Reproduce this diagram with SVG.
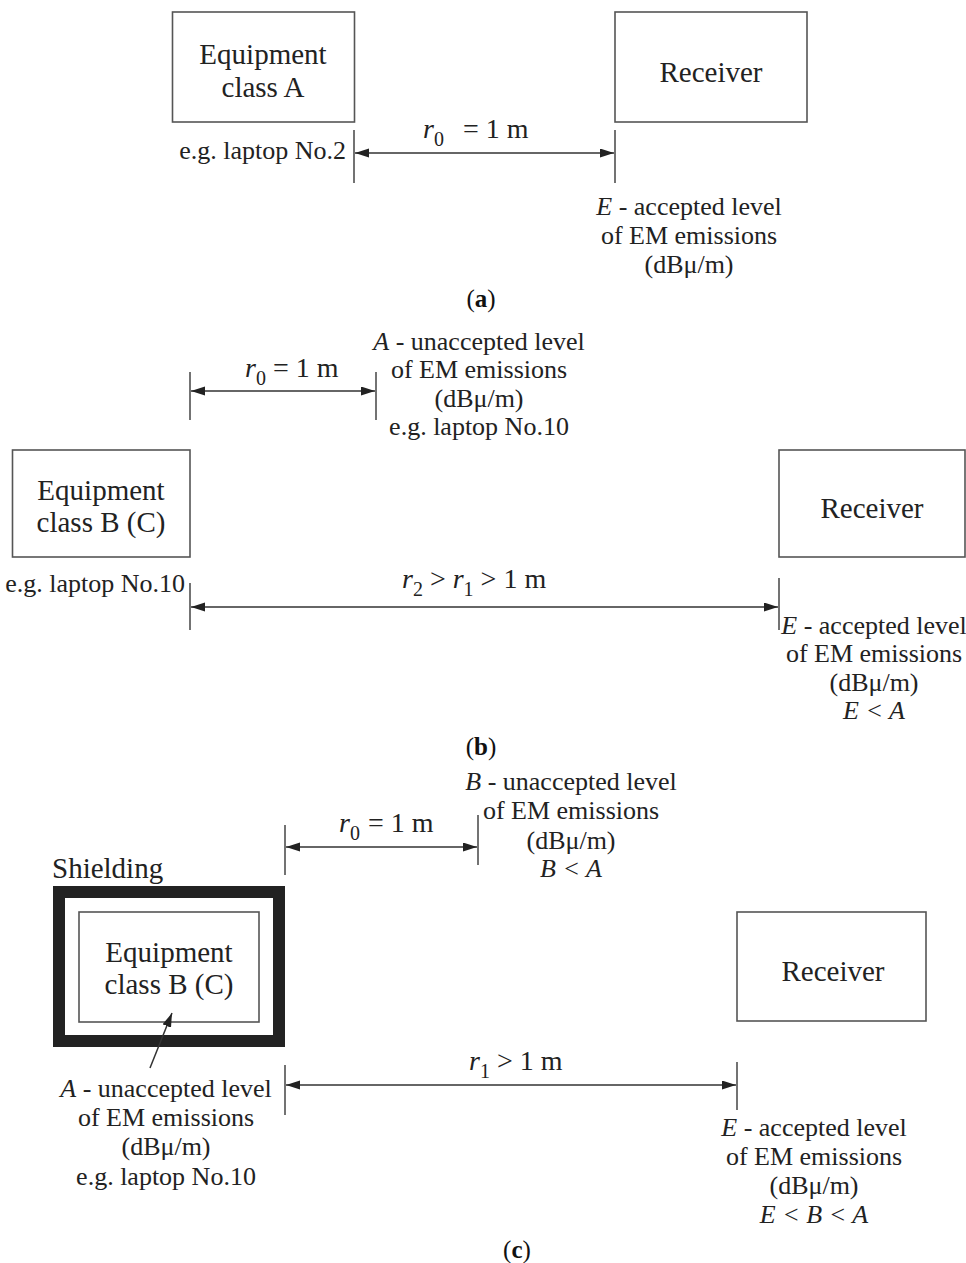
<svg xmlns="http://www.w3.org/2000/svg" width="966" height="1263" viewBox="0 0 966 1263">
<style>
.bg{fill:#fff}
.box{fill:none;stroke:#555;stroke-width:1.6}
.shield{fill:none;stroke:#222;stroke-width:12}
.t{font-family:"Liberation Serif","Times New Roman",serif;fill:#222}
.big{font-size:29px}
.lab{font-size:26px}
.dim{font-size:28px}
.sub{font-size:20px}
.i{font-style:italic}
.c{text-anchor:middle}
.e{text-anchor:end}
.tick{stroke:#444;stroke-width:1.5}
.conn{stroke:#333;stroke-width:1.5;fill:none}
.cap{font-family:"Liberation Serif","Times New Roman",serif;font-size:25px;fill:#111;text-anchor:middle}
</style>
<defs>
<marker id="ah" markerUnits="userSpaceOnUse" markerWidth="15" markerHeight="10" refX="14" refY="4.5" orient="auto-start-reverse">
<path d="M0,0 L14,4.5 L0,9 z" fill="#222"/>
</marker>
</defs>
<rect class="bg" x="0" y="0" width="966" height="1263"/>

<!-- Panel (a) -->
<g id="a-equipment">
<rect class="box" x="172.5" y="12" width="182" height="110"/>
<text class="t big c" x="263" y="64">Equipment</text>
<text class="t big c" x="263" y="97">class A</text>
</g>
<g id="a-receiver">
<rect class="box" x="615" y="12" width="192" height="110"/>
<text class="t big c" x="711" y="82">Receiver</text>
</g>
<g id="a-labels">
<text class="t lab e" x="346" y="159">e.g. laptop No.2</text>
<text class="t dim" x="423" y="138"><tspan class="i">r</tspan></text>
<text class="t sub" x="434" y="146">0</text>
<text class="t dim" x="463" y="138">= 1 m</text>
<text class="t lab c" x="689" y="215"><tspan class="i">E</tspan> - accepted level</text>
<text class="t lab c" x="689" y="244">of EM emissions</text>
<text class="t lab c" x="689" y="273">(dBμ/m)</text>
<text class="cap" x="481" y="307">(<tspan font-weight="bold">a</tspan>)</text>
</g>

<!-- Panel (b) -->
<g id="b-equipment">
<rect class="box" x="12.5" y="450" width="177.5" height="107"/>
<text class="t big c" x="101" y="500">Equipment</text>
<text class="t big c" x="101" y="532">class B (C)</text>
</g>
<g id="b-receiver">
<rect class="box" x="779" y="450" width="186" height="107"/>
<text class="t big c" x="872" y="518">Receiver</text>
</g>
<g id="b-labels">
<text class="t dim" x="245" y="377"><tspan class="i">r</tspan></text>
<text class="t sub" x="256" y="385">0</text>
<text class="t dim" x="273" y="377">= 1 m</text>
<text class="t lab c" x="479" y="350"><tspan class="i">A</tspan> - unaccepted level</text>
<text class="t lab c" x="479" y="378">of EM emissions</text>
<text class="t lab c" x="479" y="407">(dBμ/m)</text>
<text class="t lab c" x="479" y="435">e.g. laptop No.10</text>
<text class="t lab e" x="185" y="592">e.g. laptop No.10</text>
<text class="t dim" x="402" y="588"><tspan class="i">r</tspan><tspan class="sub" dy="8">2</tspan><tspan dy="-8"> &gt; </tspan><tspan class="i">r</tspan><tspan class="sub" dy="8">1</tspan><tspan dy="-8"> &gt; 1 m</tspan></text>
<text class="t lab c" x="874" y="634"><tspan class="i">E</tspan> - accepted level</text>
<text class="t lab c" x="874" y="662">of EM emissions</text>
<text class="t lab c" x="874" y="691">(dBμ/m)</text>
<text class="t lab c i" x="874" y="719">E &lt; A</text>
<text class="cap" x="481" y="755">(<tspan font-weight="bold">b</tspan>)</text>
</g>

<!-- Panel (c) -->
<g id="c-shielding">
<text class="t big" x="52" y="878">Shielding</text>
<rect class="shield" x="59" y="892" width="220" height="149"/>
</g>
<g id="c-equipment">
<rect class="box" x="79" y="912" width="180" height="110"/>
<text class="t big c" x="169" y="962">Equipment</text>
<text class="t big c" x="169" y="994">class B (C)</text>
</g>
<g id="c-receiver">
<rect class="box" x="737" y="912" width="189" height="109"/>
<text class="t big c" x="833" y="981">Receiver</text>
</g>
<g id="c-labels">
<text class="t dim" x="339" y="832"><tspan class="i">r</tspan></text>
<text class="t sub" x="350" y="840">0</text>
<text class="t dim" x="368" y="832">= 1 m</text>
<text class="t lab c" x="571" y="790"><tspan class="i">B</tspan> - unaccepted level</text>
<text class="t lab c" x="571" y="819">of EM emissions</text>
<text class="t lab c" x="571" y="849">(dBμ/m)</text>
<text class="t lab c i" x="571" y="877">B &lt; A</text>
<text class="t dim" x="469" y="1070"><tspan class="i">r</tspan><tspan class="sub" dy="8">1</tspan><tspan dy="-8"> &gt; 1 m</tspan></text>
<text class="t lab c" x="166" y="1097"><tspan class="i">A</tspan> - unaccepted level</text>
<text class="t lab c" x="166" y="1126">of EM emissions</text>
<text class="t lab c" x="166" y="1155">(dBμ/m)</text>
<text class="t lab c" x="166" y="1185">e.g. laptop No.10</text>
<text class="t lab c" x="814" y="1136"><tspan class="i">E</tspan> - accepted level</text>
<text class="t lab c" x="814" y="1165">of EM emissions</text>
<text class="t lab c" x="814" y="1194">(dBμ/m)</text>
<text class="t lab c i" x="814" y="1223">E &lt; B &lt; A</text>
<text class="cap" x="517" y="1258">(<tspan font-weight="bold">c</tspan>)</text>
</g>

<g id="connectors">
<line class="tick" x1="354" y1="130" x2="354" y2="183"/>
<line class="tick" x1="615" y1="130" x2="615" y2="183"/>
<line class="conn" x1="355" y1="153" x2="614" y2="153" marker-start="url(#ah)" marker-end="url(#ah)"/>

<line class="tick" x1="190" y1="372" x2="190" y2="420"/>
<line class="tick" x1="376" y1="372" x2="376" y2="420"/>
<line class="conn" x1="191" y1="391" x2="375" y2="391" marker-start="url(#ah)" marker-end="url(#ah)"/>
<line class="tick" x1="190" y1="583" x2="190" y2="630"/>
<line class="tick" x1="779" y1="578" x2="779" y2="630"/>
<line class="conn" x1="191" y1="607" x2="778" y2="607" marker-start="url(#ah)" marker-end="url(#ah)"/>

<line class="tick" x1="285" y1="825" x2="285" y2="875"/>
<line class="tick" x1="478" y1="815" x2="478" y2="865"/>
<line class="conn" x1="286" y1="847" x2="477" y2="847" marker-start="url(#ah)" marker-end="url(#ah)"/>
<line class="tick" x1="285" y1="1065" x2="285" y2="1115"/>
<line class="tick" x1="737" y1="1062" x2="737" y2="1110"/>
<line class="conn" x1="286" y1="1085" x2="736" y2="1085" marker-start="url(#ah)" marker-end="url(#ah)"/>
<line class="conn" x1="150" y1="1068" x2="172" y2="1013" marker-end="url(#ah)"/>
</g>
</svg>
